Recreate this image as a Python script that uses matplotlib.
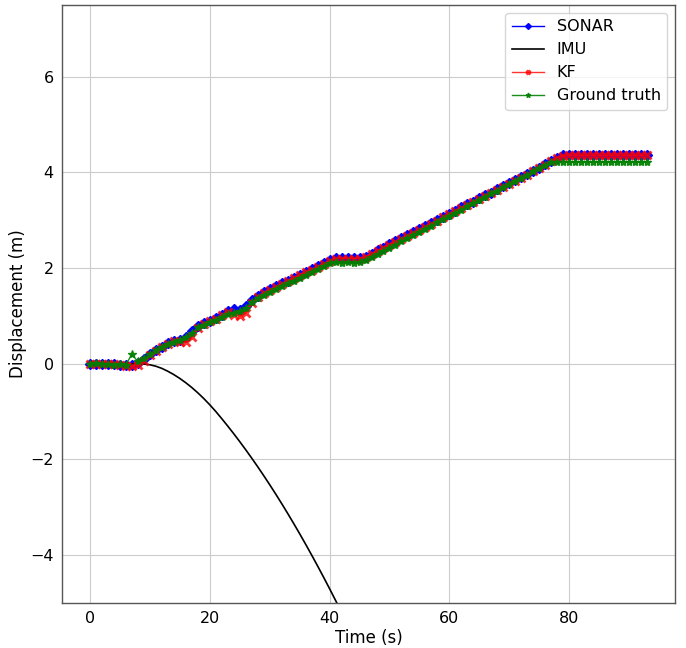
import numpy as np
import matplotlib
matplotlib.use('Agg')
import matplotlib.pyplot as plt

# time stamps (s), one sample per second
time = np.arange(0, 94)

sonar = [0.0, 0.0, -0.01, 0.0, -0.01, -0.02, -0.03, -0.03, 0.02, 0.1,
         0.2, 0.28, 0.36, 0.43, 0.48, 0.5, 0.55, 0.68, 0.8, 0.86,
         0.9, 0.95, 1.02, 1.1, 1.14, 1.12, 1.2, 1.34, 1.42, 1.5,
         1.56, 1.62, 1.68, 1.74, 1.8, 1.86, 1.92, 1.98, 2.04, 2.1,
         2.16, 2.21, 2.21, 2.21, 2.21, 2.21, 2.24, 2.3, 2.37, 2.43,
         2.5, 2.56, 2.62, 2.69, 2.75, 2.81, 2.88, 2.94, 3.0, 3.07,
         3.14, 3.2, 3.27, 3.33, 3.39, 3.46, 3.52, 3.58, 3.65, 3.71,
         3.77, 3.84, 3.9, 3.96, 4.03, 4.1, 4.17, 4.24, 4.31, 4.36,
         4.37, 4.37, 4.37, 4.37, 4.37, 4.37, 4.37, 4.37, 4.37, 4.37,
         4.37, 4.37, 4.37, 4.37]

kf = [0.0, 0.0, -0.01, 0.0, -0.01, -0.02, -0.04, -0.05, -0.03, 0.06,
      0.18, 0.27, 0.35, 0.42, 0.47, 0.45, 0.45, 0.56, 0.74, 0.84,
      0.89, 0.94, 1.01, 1.08, 1.02, 1.0, 1.06, 1.28, 1.4, 1.49,
      1.55, 1.61, 1.67, 1.73, 1.79, 1.85, 1.91, 1.97, 2.03, 2.09,
      2.15, 2.2, 2.2, 2.2, 2.2, 2.2, 2.23, 2.29, 2.36, 2.42,
      2.49, 2.55, 2.61, 2.68, 2.74, 2.8, 2.87, 2.93, 2.99, 3.06,
      3.13, 3.19, 3.26, 3.32, 3.38, 3.45, 3.51, 3.57, 3.64, 3.7,
      3.76, 3.83, 3.89, 3.95, 4.02, 4.09, 4.16, 4.23, 4.3, 4.35,
      4.36, 4.36, 4.36, 4.36, 4.36, 4.36, 4.36, 4.36, 4.36, 4.36,
      4.36, 4.36, 4.36, 4.36]

ground_truth = [0.0, 0.01, -0.01, 0.0, -0.02, -0.01, -0.02, 0.2, 0.05, 0.12,
                0.2, 0.28, 0.36, 0.42, 0.46, 0.5, 0.56, 0.64, 0.76, 0.82,
                0.87, 0.92, 0.98, 1.04, 1.07, 1.1, 1.16, 1.3, 1.38, 1.44,
                1.5, 1.56, 1.62, 1.68, 1.74, 1.8, 1.86, 1.92, 1.98, 2.04,
                2.1, 2.12, 2.11, 2.12, 2.11, 2.12, 2.16, 2.23, 2.29, 2.36,
                2.43, 2.49, 2.56, 2.62, 2.69, 2.76, 2.82, 2.89, 2.96, 3.02,
                3.09, 3.16, 3.22, 3.29, 3.36, 3.42, 3.49, 3.56, 3.62, 3.69,
                3.75, 3.82, 3.89, 3.95, 4.02, 4.09, 4.15, 4.21, 4.22, 4.22,
                4.22, 4.22, 4.22, 4.22, 4.22, 4.22, 4.22, 4.22, 4.22, 4.22,
                4.22, 4.22, 4.22, 4.22]

# IMU dead-reckoning drifts away, only the visible part is kept
imu_time = np.arange(0, 43)
imu = [0.0, 0.0, 0.0, 0.0, 0.0, 0.0, 0.0, 0.0, 0.0, -0.005,
       -0.02, -0.05, -0.095, -0.155, -0.225, -0.305, -0.395, -0.495, -0.605, -0.725,
       -0.855, -0.995, -1.145, -1.3, -1.46, -1.625, -1.795, -1.97, -2.15, -2.335,
       -2.525, -2.72, -2.92, -3.125, -3.335, -3.55, -3.77, -3.995, -4.225, -4.46,
       -4.7, -4.945, -5.195]

fig = plt.figure(figsize=(6.86, 6.48), dpi=100)
ax = fig.add_axes([0.0904, 0.0694, 0.8936, 0.9229])

ax.plot(time, sonar, color='b', marker='D', markersize=5, linewidth=1, label='SONAR')
ax.plot(imu_time, imu, color='k', linewidth=1.2, label='IMU')
ax.plot(time, kf, color='r', marker='x', markersize=6, markeredgewidth=2,
        linewidth=1, alpha=0.8, label='KF')
ax.plot(time, ground_truth, color='green', marker='*', markersize=6,
        linewidth=1, alpha=0.9, label='Ground truth')

ax.set_xlim(-4.65, 97.65)
ax.set_ylim(-5, 7.5)
ax.set_xticks([0, 20, 40, 60, 80])
ax.set_yticks([-4, -2, 0, 2, 4, 6])
ax.grid(True, color='#cccccc', linewidth=0.8)
ax.tick_params(length=0, labelsize=11.5, pad=6)
for s in ax.spines.values():
    s.set_color('#555555')
    s.set_linewidth(1)

ax.set_xlabel('Time (s)', fontsize=12, labelpad=2)
ax.set_ylabel('Displacement (m)', fontsize=12, labelpad=2)
ax.legend(loc='upper right', fontsize=11.5, markerscale=0.6, framealpha=0.8)

fig.savefig('out.png', dpi=100)
